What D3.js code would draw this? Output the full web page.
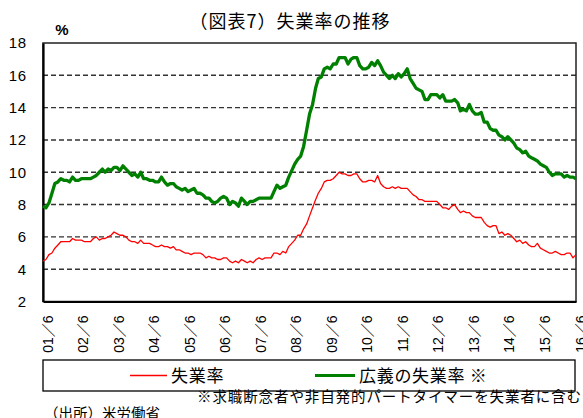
<!DOCTYPE html>
<html>
<head>
<meta charset="utf-8">
<script src="https://cdn.jsdelivr.net/npm/d3@7"></script>
<style>
  body { margin: 0; background: #fff; }
  svg { display: block; }
  .jp { font-family: "Noto Sans CJK JP", "Noto Sans", sans-serif; }
  .num { font-family: "Liberation Sans", Arial, "Noto Sans CJK JP", sans-serif; }
</style>
</head>
<body>
<script>
const width = 583;
const height = 418;

// monthly, 2001/6 .. 2016/6 (U-3 and U-6, %)
const startMonth = new Date(2001, 5, 1);
const unemployment = [
  4.5, 4.6, 4.9, 5.0, 5.3, 5.5, 5.7,
  5.7, 5.7, 5.7, 5.9, 5.8, 5.8, 5.8, 5.7, 5.7, 5.7, 5.9, 6.0,
  5.8, 5.9, 5.9, 6.0, 6.1, 6.3, 6.2, 6.1, 6.1, 6.0, 5.8, 5.7,
  5.7, 5.6, 5.8, 5.6, 5.6, 5.6, 5.5, 5.4, 5.4, 5.5, 5.4, 5.4,
  5.3, 5.4, 5.2, 5.2, 5.1, 5.0, 5.0, 4.9, 5.0, 5.0, 5.0, 4.9,
  4.7, 4.8, 4.7, 4.7, 4.6, 4.6, 4.7, 4.7, 4.5, 4.4, 4.5, 4.4,
  4.6, 4.5, 4.4, 4.5, 4.4, 4.6, 4.7, 4.6, 4.7, 4.7, 4.7, 5.0,
  5.0, 4.9, 5.1, 5.0, 5.4, 5.6, 5.8, 6.1, 6.1, 6.5, 6.8, 7.3,
  7.8, 8.3, 8.7, 9.0, 9.4, 9.5, 9.5, 9.6, 9.8, 10.0, 9.9, 9.9,
  9.8, 9.8, 9.9, 9.9, 9.6, 9.4, 9.4, 9.5, 9.5, 9.4, 9.8, 9.3,
  9.1, 9.0, 9.0, 9.1, 9.0, 9.1, 9.0, 9.0, 9.0, 8.8, 8.6, 8.5,
  8.3, 8.3, 8.2, 8.2, 8.2, 8.2, 8.2, 8.0, 7.8, 7.8, 7.7, 7.9,
  8.0, 7.7, 7.5, 7.6, 7.5, 7.5, 7.3, 7.2, 7.2, 7.2, 6.9, 6.7,
  6.6, 6.7, 6.7, 6.2, 6.3, 6.1, 6.2, 6.1, 5.9, 5.7, 5.8, 5.6,
  5.7, 5.5, 5.4, 5.4, 5.6, 5.3, 5.2, 5.1, 5.0, 5.0, 5.1, 5.0,
  4.9, 4.9, 5.0, 5.0, 4.7, 4.9
];
const broadUnemployment = [
  7.9, 7.8, 8.1, 8.7, 9.3, 9.4, 9.6,
  9.5, 9.5, 9.4, 9.7, 9.5, 9.5, 9.6, 9.6, 9.6, 9.6, 9.7, 9.8,
  10.0, 10.2, 10.0, 10.2, 10.1, 10.3, 10.3, 10.1, 10.4, 10.2, 10.0, 9.8,
  9.9, 9.7, 10.0, 9.6, 9.6, 9.5, 9.5, 9.4, 9.4, 9.7, 9.4, 9.2,
  9.3, 9.3, 9.1, 9.0, 8.9, 9.0, 8.8, 8.9, 9.0, 8.7, 8.7, 8.6,
  8.4, 8.4, 8.2, 8.1, 8.2, 8.4, 8.5, 8.4, 8.0, 8.2, 8.1, 7.9,
  8.4, 8.2, 8.0, 8.2, 8.2, 8.3, 8.4, 8.4, 8.4, 8.4, 8.4, 8.8,
  9.2, 9.0, 9.1, 9.2, 9.7, 10.1, 10.5, 10.8, 11.0, 11.6, 12.6, 13.6,
  14.2, 15.2, 15.8, 15.9, 16.4, 16.5, 16.4, 16.7, 16.7, 17.1, 17.1, 17.1,
  16.7, 17.0, 17.1, 17.1, 16.6, 16.4, 16.4, 16.5, 16.8, 16.6, 16.9, 16.6,
  16.2, 16.0, 15.8, 16.0, 15.8, 16.1, 15.9, 16.1, 16.4, 15.8, 15.5, 15.2,
  15.1, 15.0, 14.5, 14.5, 14.8, 14.8, 14.8, 14.6, 14.8, 14.4, 14.4, 14.4,
  14.5, 14.3, 13.8, 13.9, 13.8, 14.2, 13.8, 13.6, 13.6, 13.7, 13.1, 13.1,
  12.7, 12.6, 12.6, 12.3, 12.2, 12.0, 12.2, 12.0, 11.8, 11.5, 11.4, 11.2,
  11.3, 11.0, 10.9, 10.8, 10.7, 10.5, 10.4, 10.3, 10.0, 9.8, 9.9, 9.9,
  9.9, 9.7, 9.8, 9.7, 9.7, 9.6
];

const xTickLabels = ["01／6", "02／6", "03／6", "04／6", "05／6", "06／6", "07／6", "08／6",
  "09／6", "10／6", "11／6", "12／6", "13／6", "14／6", "15／6", "16／6"];
const yTicks = [2, 4, 6, 8, 10, 12, 14, 16, 18];
const seriesNames = ["失業率", "広義の失業率 ※"];
const seriesColors = ["#ff0000", "#008000"];

const plot = { left: 43, right: 576, top: 43, bottom: 301.5 };

const svg = d3.select("body")
  .append("svg")
  .attr("width", width)
  .attr("height", height);

const dates = unemployment.map((d, i) => d3.timeMonth.offset(startMonth, i));
const tickDates = xTickLabels.map((d, i) => d3.timeMonth.offset(startMonth, i * 12));

const x = d3.scaleTime()
  .domain([startMonth, dates[dates.length - 1]])
  .range([plot.left, plot.right]);

const y = d3.scaleLinear()
  .domain([2, 18])
  .range([plot.bottom, plot.top]);

// title
svg.append("text")
  .attr("class", "jp")
  .attr("x", 290)
  .attr("y", 28)
  .attr("text-anchor", "middle")
  .style("font-size", "18px")
  .style("letter-spacing", "1px")
  .text("（図表7）失業率の推移");

svg.append("text")
  .attr("class", "num")
  .attr("x", 62)
  .attr("y", 35)
  .attr("text-anchor", "middle")
  .style("font-size", "15px")
  .style("font-weight", "bold")
  .text("%");

// gridlines
svg.append("g")
  .selectAll("line")
  .data(yTicks.filter(d => d > 2 && d < 18))
  .enter().append("line")
  .attr("x1", plot.left)
  .attr("x2", plot.right)
  .attr("y1", d => y(d))
  .attr("y2", d => y(d))
  .attr("stroke", "#333")
  .attr("stroke-width", 1.4)
  .attr("stroke-dasharray", "5,3");

// frame
svg.append("rect")
  .attr("x", plot.left)
  .attr("y", plot.top)
  .attr("width", plot.right - plot.left)
  .attr("height", plot.bottom - plot.top)
  .attr("fill", "none")
  .attr("stroke", "#222")
  .attr("stroke-width", 1.5);

// y axis
const yAxis = svg.append("g")
  .attr("transform", `translate(${plot.left},0)`)
  .call(d3.axisLeft(y).tickValues(yTicks).tickSize(0).tickPadding(16));
yAxis.select(".domain")
  .attr("stroke", "#000")
  .attr("stroke-width", 2.2);
yAxis.selectAll("text")
  .attr("class", "num")
  .attr("fill", "#000")
  .style("font-size", "15px")
  .style("letter-spacing", "0.8px");

// x axis
const xAxis = svg.append("g")
  .attr("transform", `translate(0,${plot.bottom})`)
  .call(d3.axisBottom(x).tickValues(tickDates).tickFormat((d, i) => xTickLabels[i]).tickSize(0));
xAxis.select(".domain")
  .attr("stroke", "#000")
  .attr("stroke-width", 2.2);
xAxis.selectAll("text")
  .attr("class", "num")
  .attr("fill", "#000")
  .style("font-size", "14px")
  .attr("text-anchor", "end")
  .attr("transform", "translate(4,14) rotate(-90)")
  .attr("x", 0)
  .attr("y", 0)
  .attr("dy", "0.36em");

// lines
const line = d3.line()
  .x((d, i) => x(dates[i]))
  .y(d => y(d));

svg.append("path")
  .datum(unemployment)
  .attr("fill", "none")
  .attr("stroke", seriesColors[0])
  .attr("stroke-width", 1.3)
  .attr("stroke-linejoin", "round")
  .attr("d", line);

svg.append("path")
  .datum(broadUnemployment)
  .attr("fill", "none")
  .attr("stroke", seriesColors[1])
  .attr("stroke-width", 3.3)
  .attr("stroke-linejoin", "round")
  .attr("d", line);

// legend
const legend = svg.append("g");
legend.append("rect")
  .attr("x", 43)
  .attr("y", 360)
  .attr("width", 532)
  .attr("height", 31)
  .attr("fill", "none")
  .attr("stroke", "#000")
  .attr("stroke-width", 1.3);

const legendPos = [{ x1: 130, x2: 167, w: 1.3 }, { x1: 315, x2: 355, w: 3 }];
seriesNames.forEach((name, i) => {
  legend.append("line")
    .attr("x1", legendPos[i].x1)
    .attr("x2", legendPos[i].x2)
    .attr("y1", 375.5)
    .attr("y2", 375.5)
    .attr("stroke", seriesColors[i])
    .attr("stroke-width", legendPos[i].w);
  legend.append("text")
    .attr("class", "jp")
    .attr("x", legendPos[i].x2 + 4)
    .attr("y", 382)
    .style("font-size", "17px")
    .style("letter-spacing", "0.7px")
    .text(name);
});

svg.append("text")
  .attr("class", "jp")
  .attr("x", 197)
  .attr("y", 402)
  .style("font-size", "14.5px")
  .style("letter-spacing", "0.9px")
  .text("※求職断念者や非自発的パートタイマーを失業者に含む");

svg.append("text")
  .attr("class", "jp")
  .attr("x", 44)
  .attr("y", 419)
  .style("font-size", "14.5px")
  .text("（出所）米労働省");
</script>
</body>
</html>
